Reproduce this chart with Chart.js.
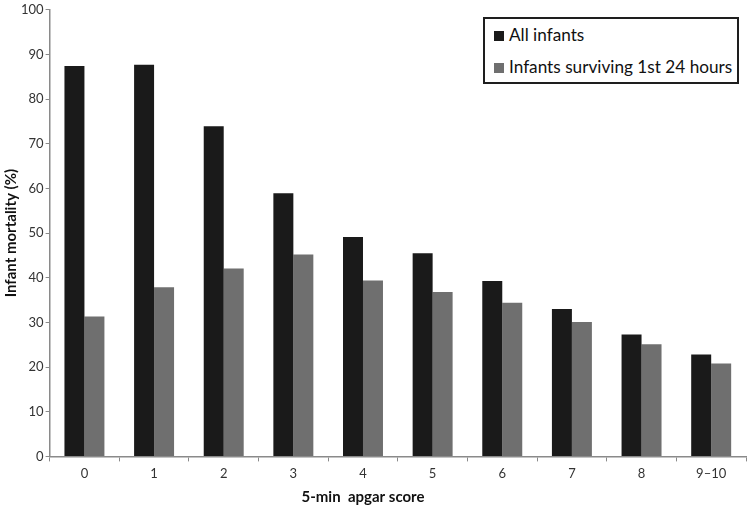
<!DOCTYPE html>
<html>
<head>
<meta charset="utf-8">
<script src="https://cdn.jsdelivr.net/npm/chart.js@4/dist/chart.umd.min.js"></script>
<style>
  html, body { margin: 0; padding: 0; background: #fff; }
  #wrap { position: relative; width: 750px; height: 507px; }
  #legend {
    position: absolute; left: 483px; top: 17px; width: 252px; height: 63px;
    border: 2px solid #1e1e1e; background: #fff;
    font-family: Lato, "Open Sans", sans-serif; font-size: 17.2px; color: #111;
  }
  #legend div { position: absolute; left: 9px; white-space: nowrap; line-height: 20px; }
  #legend span.sw { display: inline-block; width: 10px; height: 10px; margin-right: 5px; vertical-align: 0px; }
</style>
</head>
<body>
<div id="wrap">
  <canvas id="chart" width="750" height="507"></canvas>
  <div id="legend"></div>
</div>
<script>
// --- Data ---
const categories = ['0', '1', '2', '3', '4', '5', '6', '7', '8', '9\u201310'];
const allInfants = [87.4, 87.7, 73.9, 58.9, 49.1, 45.5, 39.3, 33.0, 27.3, 22.8];
const survivors24h = [31.3, 37.9, 42.1, 45.2, 39.4, 36.8, 34.4, 30.1, 25.1, 20.8];
const seriesNames = ['All infants', 'Infants surviving 1st 24 hours'];
const seriesColors = ['#1a1a1a', '#6f6f6f'];
const xTitle = '5-min  apgar score';
const yTitle = 'Infant mortality (%)';

const fontFamily = 'Lato, "Open Sans", sans-serif';
const axisColor = '#8a8a8a';

// x title sits under category "4" in the original, not under the middle
const xTitlePlugin = {
    id: 'xTitle',
    afterDraw(chart) {
        const c = chart.ctx;
        const x = chart.scales.x.getPixelForValue(4);
        c.save();
        c.font = 'bold 15px ' + fontFamily;
        c.fillStyle = '#111';
        c.textAlign = 'center';
        c.textBaseline = 'middle';
        c.fillText(xTitle, x, chart.height - 10);
        c.restore();
    }
};

const ctx = document.getElementById('chart').getContext('2d');

const chart = new Chart(ctx, {
    type: 'bar',
    data: {
        labels: categories,
        datasets: [
            { label: seriesNames[0], data: allInfants, backgroundColor: seriesColors[0] },
            { label: seriesNames[1], data: survivors24h, backgroundColor: seriesColors[1] }
        ]
    },
    options: {
        responsive: false,
        animation: false,
        layout: { padding: { top: 1, right: 4, left: 0, bottom: 20 } },
        datasets: { bar: { barPercentage: 1, categoryPercentage: 0.574 } },
        plugins: { legend: { display: false }, tooltip: { enabled: false } },
        scales: {
            x: {
                grid: { display: true, drawOnChartArea: false, offset: true, tickLength: 5, color: axisColor },
                border: { color: axisColor, width: 1.5 },
                ticks: { color: '#333', font: { family: fontFamily, size: 13 }, padding: 5 }
            },
            y: {
                min: 0, max: 100,
                grid: { display: true, drawOnChartArea: false, tickLength: 4, color: axisColor },
                border: { color: axisColor, width: 1.5 },
                ticks: { stepSize: 10, color: '#333', font: { family: fontFamily, size: 13 }, padding: 2 },
                title: {
                    display: true, text: yTitle, color: '#111',
                    font: { family: fontFamily, size: 15, weight: 'bold', lineHeight: 1.0 },
                    padding: { top: 4, bottom: 0 }
                }
            }
        }
    },
    plugins: [xTitlePlugin]
});

// --- Legend (boxed, top-right) ---
const legendEl = document.getElementById('legend');
chart.data.datasets.forEach((ds, i) => {
    const row = document.createElement('div');
    row.style.top = (i === 0 ? 6 : 38) + 'px';
    row.innerHTML = '<span class="sw" style="background:' + ds.backgroundColor + '"></span>' + ds.label;
    legendEl.appendChild(row);
});
</script>
</body>
</html>
